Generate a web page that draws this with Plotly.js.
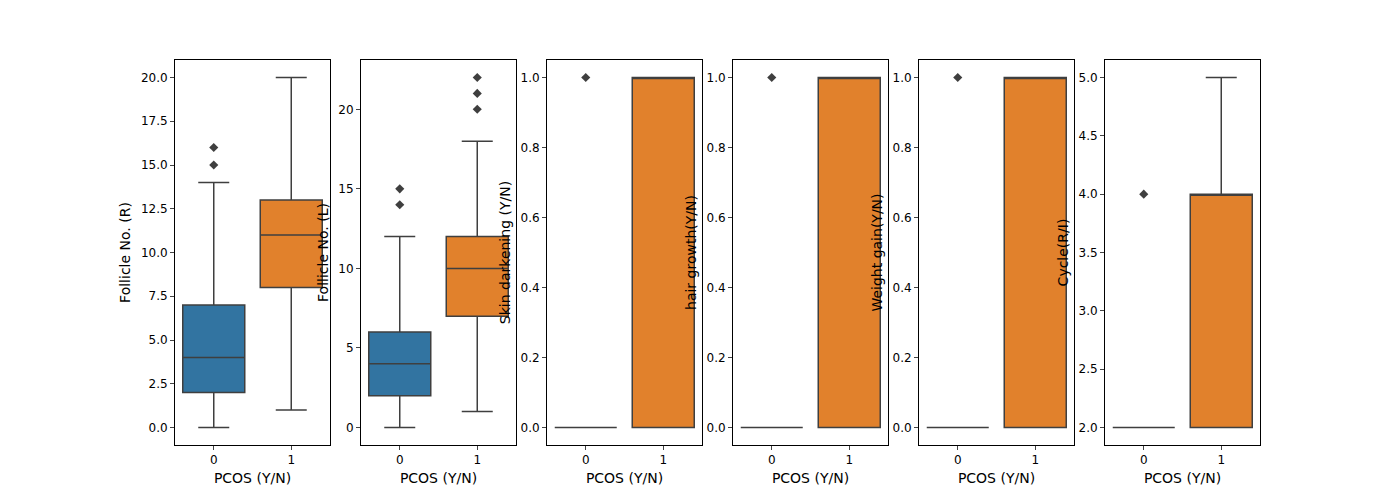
<!DOCTYPE html>
<html>
<head>
<script src="https://cdn.plot.ly/plotly-3.0.1.min.js"></script>
<style>body{margin:0;background:#fff}</style>
</head>
<body>
<div id="chart" style="width:1400px;height:500px"></div>
<script>
// one entry per panel: y label, stats for PCOS 0 and PCOS 1 [lower, q1, median, q3, upper]
const labels = ['Follicle No. (R)', 'Follicle No. (L)', 'Skin darkening (Y/N)', 'hair growth(Y/N)', 'Weight gain(Y/N)', 'Cycle(R/I)'];
const stats0 = [[0, 2, 4, 7, 14], [0, 2, 4, 6, 12], [0, 0, 0, 0, 0], [0, 0, 0, 0, 0], [0, 0, 0, 0, 0], [2, 2, 2, 2, 2]];
const stats1 = [[1, 8, 11, 13, 20], [1, 7, 10, 12, 18], [0, 0, 1, 1, 1], [0, 0, 1, 1, 1], [0, 0, 1, 1, 1], [2, 2, 4, 4, 5]];
const outliers0 = [[15, 16], [14, 15], [1], [1], [1], [4]];
const outliers1 = [[], [20, 21, 22], [], [], [], []];
const yRanges = [[-1, 21], [-1.1, 23.1], [-0.05, 1.05], [-0.05, 1.05], [-0.05, 1.05], [1.85, 5.15]];
const yTicks = [[0, 2.5, 5, 7.5, 10, 12.5, 15, 17.5, 20], [0, 5, 10, 15, 20], [0, 0.2, 0.4, 0.6, 0.8, 1.0], [0, 0.2, 0.4, 0.6, 0.8, 1.0], [0, 0.2, 0.4, 0.6, 0.8, 1.0], [2, 2.5, 3, 3.5, 4, 4.5, 5]];
const tickFmt = ['.1f', 'd', '.1f', '.1f', '.1f', '.1f'];
const colors = ['#3274a1', '#e1812c'];

const traces = [];
const layout = {width: 1400, height: 500, margin: {l: 0, r: 0, t: 0, b: 0}, showlegend: false,
  paper_bgcolor: '#fff', plot_bgcolor: '#fff', font: {family: 'DejaVu Sans', size: 12, color: '#000'}};

for (let i = 0; i < 6; i++) {
  const n = i === 0 ? '' : String(i + 1);
  const xa = 'x' + n, ya = 'y' + n;
  [stats0[i], stats1[i]].forEach((s, k) => {
    traces.push({type: 'box', x: [k], lowerfence: [s[0]], q1: [s[1]], median: [s[2]], q3: [s[3]], upperfence: [s[4]],
      width: 0.8, whiskerwidth: 0.5, boxpoints: false, fillcolor: colors[k], line: {color: '#3f3f3f', width: 1.5},
      xaxis: xa, yaxis: ya, hoverinfo: 'skip'});
  });
  [outliers0[i], outliers1[i]].forEach((o, k) => {
    if (!o.length) return;
    traces.push({type: 'scatter', mode: 'markers', x: o.map(() => k), y: o, xaxis: xa, yaxis: ya,
      marker: {symbol: 'diamond', size: 7, color: '#3f3f3f'}});
  });
  const x0 = (175 + 186 * i) / 1400, x1 = (330 + 186 * i) / 1400;
  layout['xaxis' + n] = {domain: [x0, x1], anchor: ya, range: [-0.5, 1.5], tickvals: [0, 1], ticktext: ['0', '1'],
    showgrid: false, zeroline: false, showline: true, mirror: true, linecolor: '#000', linewidth: 1,
    ticks: 'outside', ticklen: 4, title: {text: 'PCOS (Y/N)', standoff: 6}};
  layout['yaxis' + n] = {domain: [0.11, 0.88], anchor: xa, range: yRanges[i], tickvals: yTicks[i], tickformat: tickFmt[i],
    showgrid: false, zeroline: false, showline: true, mirror: true, linecolor: '#000', linewidth: 1,
    ticks: 'outside', ticklen: 4, title: {text: labels[i], standoff: 6}};
}

Plotly.newPlot('chart', traces, layout, {displayModeBar: false, staticPlot: true});
</script>
</body>
</html>
